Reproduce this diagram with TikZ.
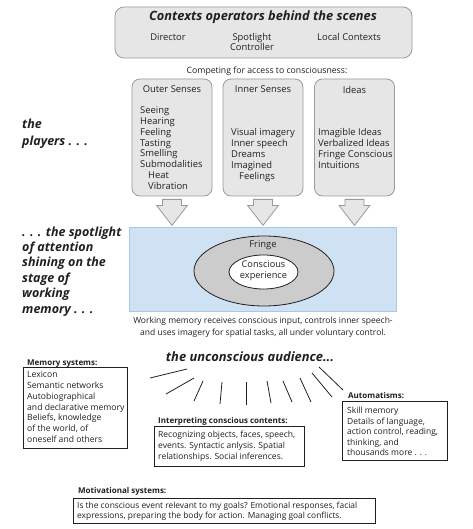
\documentclass[tikz,border=0pt]{standalone}
\usepackage{fontspec}
\setmainfont{Open Sans}
\usetikzlibrary{shapes,arrows,calc}
\definecolor{ink}{HTML}{231F20}
\definecolor{boxgray}{HTML}{E6E6E6}
\definecolor{linegray}{HTML}{9A9A9A}
\definecolor{stageblue}{HTML}{CFE2F4}
\definecolor{stageline}{HTML}{A8C8E8}
\tikzstyle{ctx}=[draw=linegray,fill=boxgray,rounded corners=9pt,thick]
\tikzstyle{player}=[draw=linegray,fill=boxgray,rounded corners=8pt,thick,minimum width=80pt,minimum height=117pt]
\tikzstyle{txt}=[text=ink,font=\fontsize{9.4}{10.85}\selectfont,inner sep=0pt]
\tikzstyle{lst}=[txt,align=left,anchor=north west]
\tikzstyle{hd}=[txt,font=\fontsize{8}{10}\selectfont\bfseries,anchor=base west]
\tikzstyle{big}=[text=ink,font=\fontsize{12.5}{15.4}\selectfont\bfseries\itshape,inner sep=0pt,align=left]
\tikzstyle{aud}=[draw=ink,thick,fill=white]
\tikzstyle{blockarrow}=[draw=linegray,fill=boxgray,thick,line join=miter]

\begin{document}
\begin{tikzpicture}[x=1pt,y=-1pt]
  \useasboundingbox (0,0) rectangle (472,529);
  % contexts
  \node [ctx,minimum width=297pt,minimum height=51pt] (ctx) at (263.5,32.5) {};
  \node [big,font=\fontsize{12.8}{14}\selectfont\bfseries\itshape] (ctxtitle) at (263,17) {Contexts operators behind the scenes};
  \node [txt] (director) at (168,37) {Director};
  \node [txt,align=center,font=\fontsize{9.4}{10}\selectfont] (spot) at (252,42) {Spotlight\\Controller};
  \node [txt] (local) at (349,37) {Local Contexts};
  \node [txt,font=\fontsize{8.7}{10}\selectfont] (compete) at (267,71) {Competing for access to consciousness:};

  % the players
  \node [player] (outer) at (172,137.5) {};
  \node [player,right of=outer,node distance=91pt] (inner) {};
  \node [player,right of=inner,node distance=91.5pt] (ideas) {};
  \node [txt] at (outer.north) [yshift=-11pt] {Outer Senses};
  \node [txt] at (inner.north) [yshift=-11pt] {Inner Senses};
  \node [txt] at (ideas.north) [yshift=-11pt] {Ideas};
  \node [lst] (outerlist) at (140,106.5) {Seeing\\Hearing\\Feeling\\Tasting\\Smelling\\Submodalities\\
    \hspace{8pt}Heat\\\hspace{8pt}Vibration};
  \node [lst] (innerlist) at (231,128.5) {Visual imagery\\Inner speech\\Dreams\\Imagined\\\hspace{8pt}Feelings};
  \node [lst] (idealist) at (318,128.5) {Imagible Ideas\\Verbalized Ideas\\Fringe Conscious\\Intuitions};
  \node [big,anchor=north west,font=\fontsize{12.5}{17}\selectfont\bfseries\itshape] (players) at (22,119) {the\\players . . .};

  % arrows into the stage
  \foreach \b in {outer,inner,ideas}
    \draw [blockarrow] ($(\b.south)+(-9.5,3)$) -- ++(19,0) -- ++(0,6) -- ++(6,0)
      -- ($(\b.south)+(0,29)$) -- ($(\b.south)+(-15.5,9)$) -- ++(6,0) -- cycle;

  % the stage
  \node [draw=stageline,fill=stageblue,thick,minimum width=267pt,minimum height=84pt] (stage) at (262.5,269) {};
  \node [ellipse,draw=ink,thick,fill=black!20,minimum width=140pt,minimum height=70pt] (fringe) at (264,271) {};
  \node [txt] at (263,245) {Fringe};
  \node [ellipse,draw=ink,thick,fill=white,minimum width=69pt,minimum height=34pt] (conscious) at (263.5,272) {};
  \node [txt,align=center,font=\fontsize{9.2}{11}\selectfont] at (263.5,270.5) {Conscious\\experience};
  \node [big,anchor=north west] (spotlight) at (22,226.5) {. . . the spotlight\\of attention\\shining on the\\stage of\\working\\memory . . .};
  \node [txt,align=center,font=\fontsize{8.5}{12}\selectfont] (wm) at (263,327) {Working memory receives conscious input, controls inner speech-\\
    and uses imagery for spatial tasks, all under voluntary control.};

  % the audience
  \node [big,font=\fontsize{12.9}{14}\selectfont\bfseries\itshape] (audience) at (250,357) {the unconscious audience...};
  \foreach \a/\b/\c/\d in {150/378/187/369, 166/394/194/378, 194/401/203/381, 220/404/222/382,
    246/405/246/382, 271/403/267/381, 292/402/283/381, 311/402/300/378, 332/397/312/373, 343/390/319/367}
    \draw [ink,thick] (\a,\b) -- (\c,\d);

  \node [hd] (memhd) at (27,365) {Memory systems:};
  \node [aud,minimum width=104pt,minimum height=81pt] (mem) at (75,407.5) {};
  \node [lst,font=\fontsize{8.6}{10.83}\selectfont] (memlist) at (27,371) {Lexicon\\Semantic networks\\Autobiographical\\and declarative memory\\
    Beliefs, knowledge\\of the world, of\\oneself and others};

  \node [hd] (interphd) at (158,423) {Interpreting conscious contents:};
  \node [aud,minimum width=150pt,minimum height=40pt] (interp) at (229,446) {};
  \node [lst,font=\fontsize{8.5}{11}\selectfont] (interplist) at (158,431) {Recognizing objects, faces, speech,\\
    events. Syntactic anlysis. Spatial\\relationships. Social inferences.};

  \node [hd] (autohd) at (348,398) {Automatisms:};
  \node [aud,minimum width=105pt,minimum height=59pt] (auto) at (394.5,430.5) {};
  \node [lst,font=\fontsize{8.5}{10.5}\selectfont] (autolist) at (347,407) {Skill memory\\Details of language,\\action control, reading,\\
    thinking, and\\thousands more . . .};

  \node [hd] (motivhd) at (78,493) {Motivational systems:};
  \node [aud,minimum width=302pt,minimum height=25pt] (motiv) at (224,510.5) {};
  \node [lst,font=\fontsize{8.4}{10}\selectfont] (motivlist) at (77,502) {Is the conscious event relevant to my goals? Emotional responses, facial\\
    expressions, preparing the body for action. Managing goal conflicts.};
\end{tikzpicture}
\end{document}
